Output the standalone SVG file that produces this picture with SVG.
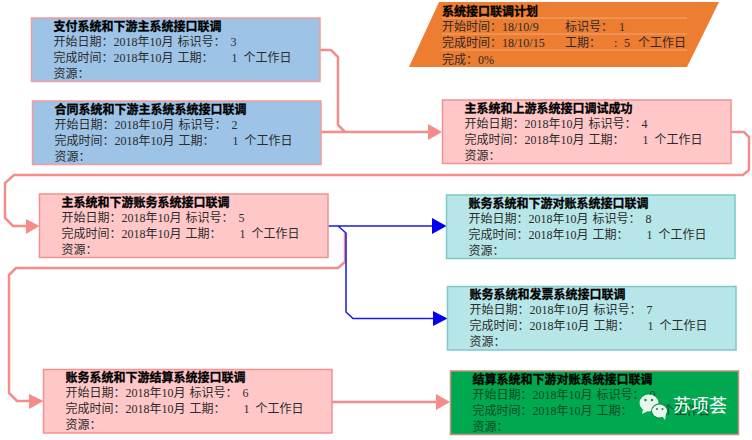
<svg xmlns="http://www.w3.org/2000/svg" width="752" height="440" viewBox="0 0 752 440">
<style>
text{font-family:"Liberation Serif","Noto Sans CJK SC",serif;font-size:12px;fill:#2b2b2b}
.t{font-family:"Noto Sans CJK SC",sans-serif;font-weight:700;fill:#000;stroke:#000;stroke-width:.3}
.bx{stroke-width:1.5}
.blue .bx{fill:#9DC3E6;stroke:#F49A9A}
.pink .bx{fill:#FFC7C7;stroke:#F49090}
.teal .bx{fill:#B7E6E9;stroke:#7CC8CC}
.green .bx{fill:#00A84F;stroke:#C09080}
.blue .ln,.pink .ln{stroke:#F49090}
.teal .ln{stroke:#8DB4E8}
.green .ln{stroke:#C8B090}
.green text{fill:#0B4A28}
.green .t{fill:#000}
.ln{stroke-width:1;fill:none}
.p{fill:none;stroke:#F58B8B;stroke-width:2.5}
.b{fill:none;stroke:#1A1AE6;stroke-width:1.5}
.pa{fill:#F58B8B}
.ba{fill:#0000F0}
.wm{fill:#E8F6EE}
.wt{font-family:"Noto Sans CJK SC",sans-serif;font-size:18px;fill:#fff}
</style>
<defs>
<g id="lines"><path class="ln" d="M22 15.500H268M22 31.500H268M22 47.500H268"/></g>
</defs>

<g id="connectors">
<path class="p" d="M320 50H331L338 57V125L345 132H430M321 132H345"/>
<polygon class="pa" points="442,132 428,124 428,140"/>
<path class="p" d="M731 132H744L749 137V170L743 175H14L5 183V218L13 226H28"/>
<polygon class="pa" points="39.500,226 26,219 26,234"/>
<path class="p" d="M345 233V262L338 268H16L9 275V393L17 401H31"/>
<polygon class="pa" points="43.500,401 29,394 29,409"/>
<path class="p" d="M332 402H437"/>
<polygon class="pa" points="450,402 436,394 436,410"/>
<path class="b" d="M328 226H433M338 226L346 233V312L353 318.500H434"/>
<polygon class="ba" points="446.500,226 432,218 432,234"/>
<polygon class="ba" points="447.500,318.500 433,311 433,326"/>
</g>

<g id="plan">
<polygon points="439,2 719,2 687,67 409,67" fill="#ED7D31"/>
<path d="M442 18H687M442 34H687M442 50H687" stroke="#F4A97A" fill="none"/>
<text class="t" x="442" y="16">系统接口联调计划</text>
<text x="442" y="31">开始时间：</text><text x="502" y="31">18/10/9</text><text x="565" y="31">标识号：</text><text x="619" y="31">1</text>
<text x="442" y="47">完成时间：</text><text x="502" y="47">18/10/15</text><text x="565" y="47">工期：</text><text x="614" y="47">:</text><text x="624" y="47">5</text><text x="638" y="47">个工作日</text>
<text x="442" y="64">完成：0%</text>
</g>

<g id="n3" class="blue" transform="translate(31.500 18)">
<rect class="bx" width="288.500" height="63.500"/><use href="#lines"/>
<text class="t" x="22" y="12.500">支付系统和下游主系统接口联调</text>
<text x="22" y="27.500">开始日期：</text><text x="82" y="27.500">2018年10月</text><text x="146" y="27.500">标识号：</text><text x="199" y="27.500">3</text>
<text x="22" y="43.500">完成时间：</text><text x="82" y="43.500">2018年10月</text><text x="146" y="43.500">工期：</text><text x="200" y="43.500">1</text><text x="212" y="43.500">个工作日</text>
<text x="22" y="59.500">资源：</text>
</g>

<g id="n2" class="blue" transform="translate(32.500 101)">
<rect class="bx" width="288.500" height="63.500"/><use href="#lines"/>
<text class="t" x="22" y="12.500">合同系统和下游主系统系统接口联调</text>
<text x="22" y="27.500">开始日期：</text><text x="82" y="27.500">2018年10月</text><text x="146" y="27.500">标识号：</text><text x="199" y="27.500">2</text>
<text x="22" y="43.500">完成时间：</text><text x="82" y="43.500">2018年10月</text><text x="146" y="43.500">工期：</text><text x="200" y="43.500">1</text><text x="212" y="43.500">个工作日</text>
<text x="22" y="59.500">资源：</text>
</g>

<g id="n4" class="pink" transform="translate(442.500 100)">
<rect class="bx" width="288.500" height="63.500"/><use href="#lines"/>
<text class="t" x="22" y="12.500">主系统和上游系统接口调试成功</text>
<text x="22" y="27.500">开始日期：</text><text x="82" y="27.500">2018年10月</text><text x="146" y="27.500">标识号：</text><text x="199" y="27.500">4</text>
<text x="22" y="43.500">完成时间：</text><text x="82" y="43.500">2018年10月</text><text x="146" y="43.500">工期：</text><text x="200" y="43.500">1</text><text x="212" y="43.500">个工作日</text>
<text x="22" y="59.500">资源：</text>
</g>

<g id="n5" class="pink" transform="translate(39.500 194)">
<rect class="bx" width="288.500" height="63.500"/><use href="#lines"/>
<text class="t" x="22" y="12.500">主系统和下游账务系统接口联调</text>
<text x="22" y="27.500">开始日期：</text><text x="82" y="27.500">2018年10月</text><text x="146" y="27.500">标识号：</text><text x="199" y="27.500">5</text>
<text x="22" y="43.500">完成时间：</text><text x="82" y="43.500">2018年10月</text><text x="146" y="43.500">工期：</text><text x="200" y="43.500">1</text><text x="212" y="43.500">个工作日</text>
<text x="22" y="59.500">资源：</text>
</g>

<g id="n8" class="teal" transform="translate(446.500 195)">
<rect class="bx" width="288.500" height="63.500"/><use href="#lines"/>
<text class="t" x="22" y="12.500">账务系统和下游对账系统接口联调</text>
<text x="22" y="27.500">开始日期：</text><text x="82" y="27.500">2018年10月</text><text x="146" y="27.500">标识号：</text><text x="199" y="27.500">8</text>
<text x="22" y="43.500">完成时间：</text><text x="82" y="43.500">2018年10月</text><text x="146" y="43.500">工期：</text><text x="200" y="43.500">1</text><text x="212" y="43.500">个工作日</text>
<text x="22" y="59.500">资源：</text>
</g>

<g id="n7" class="teal" transform="translate(447.500 286.500)">
<rect class="bx" width="288.500" height="63.500"/><use href="#lines"/>
<text class="t" x="22" y="12.500">账务系统和发票系统接口联调</text>
<text x="22" y="27.500">开始日期：</text><text x="82" y="27.500">2018年10月</text><text x="146" y="27.500">标识号：</text><text x="199" y="27.500">7</text>
<text x="22" y="43.500">完成时间：</text><text x="82" y="43.500">2018年10月</text><text x="146" y="43.500">工期：</text><text x="200" y="43.500">1</text><text x="212" y="43.500">个工作日</text>
<text x="22" y="59.500">资源：</text>
</g>

<g id="n6" class="pink" transform="translate(43.500 369.500)">
<rect class="bx" width="288.500" height="63.500"/><use href="#lines"/>
<text class="t" x="22" y="12.500">账务系统和下游结算系统接口联调</text>
<text x="22" y="27.500">开始日期：</text><text x="82" y="27.500">2018年10月</text><text x="146" y="27.500">标识号：</text><text x="199" y="27.500">6</text>
<text x="22" y="43.500">完成时间：</text><text x="82" y="43.500">2018年10月</text><text x="146" y="43.500">工期：</text><text x="200" y="43.500">1</text><text x="212" y="43.500">个工作日</text>
<text x="22" y="59.500">资源：</text>
</g>

<g id="n9" class="green" transform="translate(450.500 371)">
<rect class="bx" width="288" height="63.500"/><use href="#lines"/>
<text class="t" x="22" y="12.500">结算系统和下游对账系统接口联调</text>
<text x="22" y="27.500">开始日期：</text><text x="82" y="27.500">2018年10月</text><text x="146" y="27.500">标识号：</text><text x="199" y="27.500">9</text>
<text x="22" y="43.500">完成时间：</text><text x="82" y="43.500">2018年10月</text><text x="146" y="43.500">工期：</text><text x="200" y="43.500">1</text><text x="212" y="43.500">个工作日</text>
<text x="22" y="59.500">资源：</text>
</g>

<g id="watermark">
<ellipse class="wm" cx="649" cy="403" rx="9.500" ry="8.500"/>
<polygon class="wm" points="643,409 642,414 648,411"/>
<ellipse cx="659.500" cy="411" rx="8.500" ry="7.500" fill="#0A8A45"/>
<ellipse class="wm" cx="659.500" cy="411" rx="7.500" ry="6.500"/>
<polygon class="wm" points="662,416 665,420 666,414"/>
<circle cx="645.500" cy="400" r="1.200" fill="#0A8A45"/><circle cx="652" cy="400" r="1.200" fill="#0A8A45"/>
<circle cx="657" cy="409" r="1" fill="#0A8A45"/><circle cx="662.500" cy="409" r="1" fill="#0A8A45"/>
<text class="wt" x="673" y="412">苏项荟</text>
</g>
</svg>
